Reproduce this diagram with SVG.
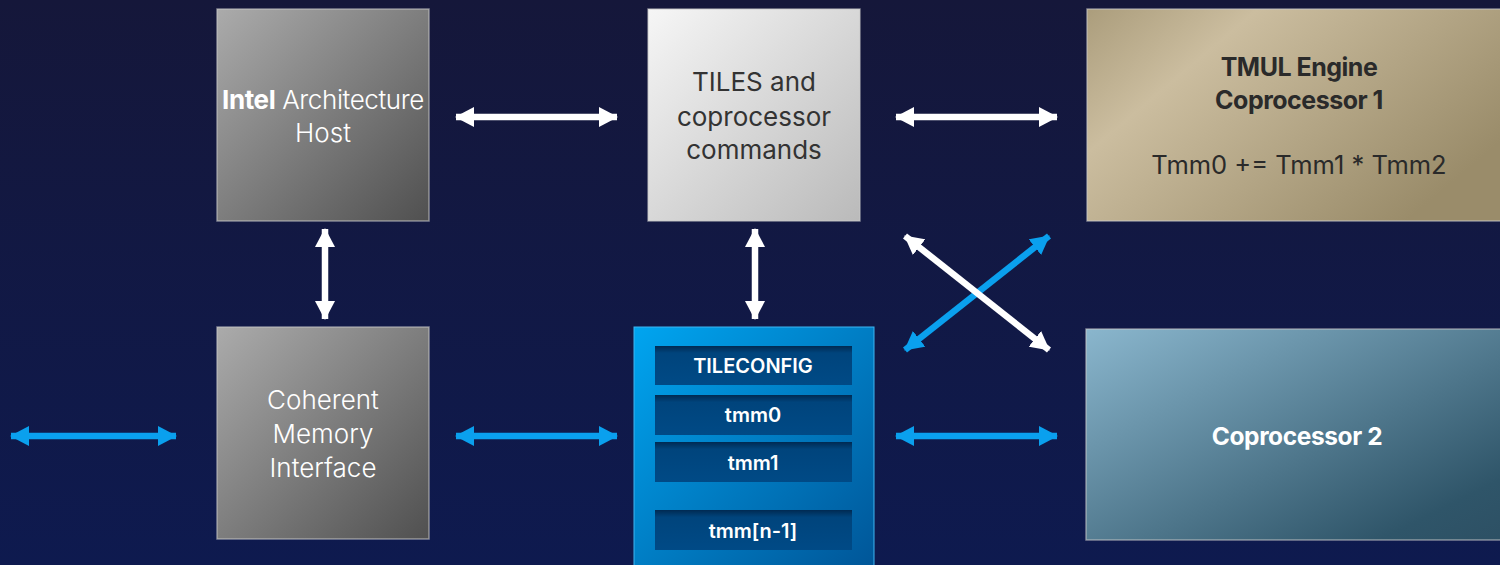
<svg xmlns="http://www.w3.org/2000/svg" width="1500" height="565" viewBox="0 0 1500 565">
  <defs>
    <linearGradient id="bg" x1="0" y1="0" x2="0" y2="1">
      <stop offset="0" stop-color="#15173a"/>
      <stop offset="1" stop-color="#0e1a4f"/>
    </linearGradient>
    <linearGradient id="gray" x1="0" y1="0" x2="1" y2="1">
      <stop offset="0" stop-color="#ababab"/>
      <stop offset="1" stop-color="#505050"/>
    </linearGradient>
    <linearGradient id="light" x1="0" y1="0" x2="1" y2="1">
      <stop offset="0" stop-color="#f6f6f6"/>
      <stop offset="1" stop-color="#bababa"/>
    </linearGradient>
    <linearGradient id="gold" x1="0" y1="0" x2="1" y2="0.6">
      <stop offset="0" stop-color="#ab9d7c"/>
      <stop offset="0.3" stop-color="#cbbd9f"/>
      <stop offset="1" stop-color="#9a8c6a"/>
    </linearGradient>
    <linearGradient id="teal" x1="0" y1="0" x2="1" y2="1">
      <stop offset="0" stop-color="#8ab6cd"/>
      <stop offset="0.85" stop-color="#2f5569"/>
      <stop offset="1" stop-color="#2d5064"/>
    </linearGradient>
    <linearGradient id="blue" x1="0" y1="0" x2="1" y2="1">
      <stop offset="0" stop-color="#00a5f0"/>
      <stop offset="1" stop-color="#005597"/>
    </linearGradient>
    <linearGradient id="bar" x1="0" y1="0" x2="0" y2="1">
      <stop offset="0" stop-color="#002a52"/>
      <stop offset="0.18" stop-color="#00447c"/>
      <stop offset="1" stop-color="#004a86"/>
    </linearGradient>
    <marker id="hw" viewBox="0 0 19 20" refX="18" refY="10" markerWidth="19" markerHeight="20" markerUnits="userSpaceOnUse" orient="auto-start-reverse">
      <path d="M0,0 L19,10 L0,20 z" fill="#ffffff"/>
    </marker>
    <marker id="hb" viewBox="0 0 19 20" refX="18" refY="10" markerWidth="19" markerHeight="20" markerUnits="userSpaceOnUse" orient="auto-start-reverse">
      <path d="M0,0 L19,10 L0,20 z" fill="#0aa0ee"/>
    </marker>
  </defs>
  <style>
    .box { stroke: #c8c8c8; stroke-opacity: 0.6; stroke-width: 1.5; }
    .t { font-family: Inter, "Open Sans", "Liberation Sans", sans-serif; text-anchor: middle; }
    .w { stroke: #ffffff; stroke-width: 6.5; fill: none; marker-start: url(#hw); marker-end: url(#hw); }
    .b { stroke: #0aa0ee; stroke-width: 6.5; fill: none; marker-start: url(#hb); marker-end: url(#hb); }
    .bartext { font-family: Inter, "Open Sans", "Liberation Sans", sans-serif; font-weight: 600; font-size: 20px; fill: #ffffff; text-anchor: middle; }
  </style>
  <rect x="0" y="0" width="1500" height="565" fill="url(#bg)"/>

  <g id="host">
    <rect class="box" x="217" y="9" width="212" height="212" fill="url(#gray)"/>
    <text class="t" x="323" y="109" font-size="26" fill="#ffffff" font-weight="300" letter-spacing="-0.4"><tspan font-weight="700">Intel</tspan> Architecture</text>
    <text class="t" x="323" y="142" font-size="26" fill="#ffffff" font-weight="300">Host</text>
  </g>

  <g id="tiles">
    <rect class="box" x="648" y="9" width="212" height="212" fill="url(#light)"/>
    <text class="t" x="754" y="91" font-size="26" fill="#333333" font-weight="400">TILES and</text>
    <text class="t" x="754" y="126" font-size="26" fill="#333333" font-weight="400">coprocessor</text>
    <text class="t" x="754" y="159" font-size="26" fill="#333333" font-weight="400">commands</text>
  </g>

  <g id="tmul">
    <rect class="box" x="1087" y="9" width="420" height="212" fill="url(#gold)"/>
    <text class="t" x="1299" y="76" font-size="25" fill="#2a2a2a" font-weight="700" letter-spacing="-0.5">TMUL Engine</text>
    <text class="t" x="1299" y="109" font-size="25" fill="#2a2a2a" font-weight="700" letter-spacing="-0.5">Coprocessor 1</text>
    <text class="t" x="1299" y="174" font-size="25.5" fill="#2a2a2a" font-weight="400">Tmm0 += Tmm1 * Tmm2</text>
  </g>

  <g id="memory">
    <rect class="box" x="217" y="327" width="212" height="212" fill="url(#gray)"/>
    <text class="t" x="323" y="409" font-size="26" fill="#ffffff" font-weight="300">Coherent</text>
    <text class="t" x="323" y="443" font-size="26" fill="#ffffff" font-weight="300">Memory</text>
    <text class="t" x="323" y="477" font-size="26" fill="#ffffff" font-weight="300">Interface</text>
  </g>

  <g id="tileconfig">
    <rect x="634" y="327" width="240" height="245" fill="url(#blue)" stroke="#3fb6f2" stroke-width="1"/>
    <rect x="655" y="346" width="197" height="39" fill="url(#bar)"/>
    <text class="bartext" x="753" y="373">TILECONFIG</text>
    <rect x="655" y="395" width="197" height="40" fill="url(#bar)"/>
    <text class="bartext" x="753" y="422">tmm0</text>
    <rect x="655" y="442" width="197" height="40" fill="url(#bar)"/>
    <text class="bartext" x="753" y="470">tmm1</text>
    <rect x="655" y="510" width="197" height="40" fill="url(#bar)"/>
    <text class="bartext" x="753" y="538">tmm[n-1]</text>
  </g>

  <g id="coprocessor2">
    <rect class="box" x="1086" y="329" width="420" height="211" fill="url(#teal)"/>
    <text class="t" x="1297" y="445" font-size="24.5" fill="#ffffff" font-weight="700" letter-spacing="-0.4">Coprocessor 2</text>
  </g>

  <g id="connectors">
    <line class="w" x1="456" y1="117" x2="617" y2="117"/>
    <line class="w" x1="896" y1="117" x2="1057" y2="117"/>
    <line class="w" x1="325" y1="229" x2="325" y2="319"/>
    <line class="w" x1="755" y1="229" x2="755" y2="319"/>
    <line class="b" x1="11" y1="436" x2="176" y2="436"/>
    <line class="b" x1="456" y1="436" x2="617" y2="436"/>
    <line class="b" x1="896" y1="436" x2="1057" y2="436"/>
    <line class="b" x1="905" y1="350" x2="1049" y2="236"/>
    <line class="w" x1="905" y1="236" x2="1049" y2="350"/>
  </g>
</svg>
